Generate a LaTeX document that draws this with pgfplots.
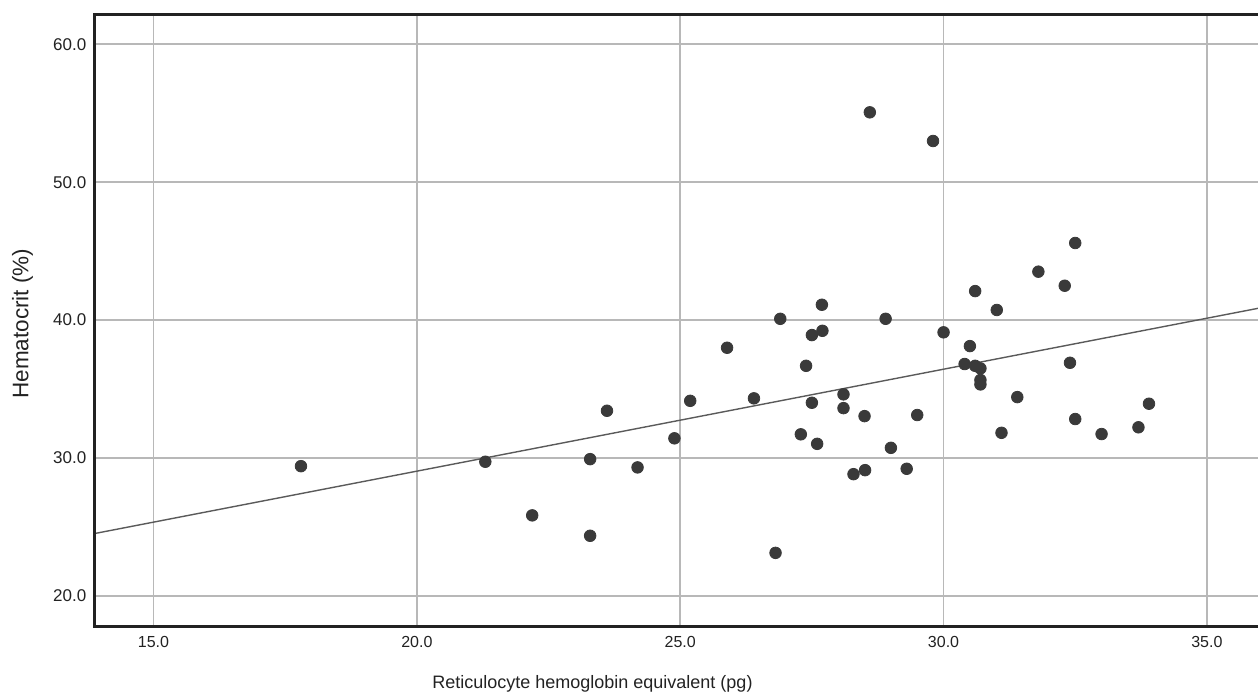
\documentclass[border=0pt]{standalone}
\usepackage{pgfplots}
\pgfplotsset{compat=1.18}
\usepackage{fontspec}
\setmainfont{Liberation Sans}
\definecolor{dotc}{HTML}{3A3A3A}
\definecolor{gridc}{HTML}{B8B8B8}
\definecolor{linec}{HTML}{5A5A5A}
\definecolor{txtc}{HTML}{222222}
\begin{document}
\begin{tikzpicture}
\begin{axis}[
  scale only axis,
  width=581.75pt, height=306pt,
  xmin=13.88, xmax=35.97,
  ymin=17.76, ymax=62.16,
  xtick={15,20,25,30,35},
  ytick={20,30,40,50,60},
  grid=major,
  grid style={color=gridc, line width=0.9pt},
  major tick length=0pt,
  axis line style={draw=none},
  clip mode=individual,
  /pgf/number format/.cd, fixed, fixed zerofill, precision=1, assume math mode=true,
  /pgfplots/.cd,
  xticklabel style={font=\fontsize{8}{9}\selectfont, color=txtc, anchor=north, inner sep=0pt, yshift=-4.75pt},
  yticklabel style={font=\fontsize{8.5}{10}\selectfont, color=txtc, anchor=east, inner sep=0pt, xshift=-3.9pt},
  xlabel={Reticulocyte hemoglobin equivalent (pg)},
  ylabel={Hematocrit (\%)},
  xlabel style={font=\fontsize{9}{11}\selectfont, color=txtc, at={(rel axis cs:0.428,0)}, anchor=base, inner sep=0pt, yshift=-30.75pt},
  ylabel style={font=\fontsize{11.25}{13}\selectfont, color=txtc, at={(rel axis cs:0,0.495)}, anchor=center, inner sep=0pt, yshift=36pt},
]
\addplot[no marks, color=linec, line width=0.7pt] coordinates {(13.88,24.51) (35.97,40.85)};
\addplot[only marks, mark=*, mark size=2.9pt, mark options={fill=dotc, draw=dotc}] coordinates {
(17.80,29.40) (21.30,29.72) (22.19,25.83) (23.29,29.91) (23.29,24.35)
(23.61,33.42) (24.19,29.31) (24.89,31.42) (25.19,34.14) (25.89,37.99)
(26.40,34.32) (26.81,23.11) (26.90,40.09) (27.29,31.71) (27.39,36.68)
(27.50,38.91) (27.50,34.00) (27.60,31.02) (27.69,41.11) (27.70,39.22)
(28.10,34.61) (28.10,33.61) (28.29,28.82) (28.50,33.03) (28.51,29.11)
(28.60,55.07) (28.90,40.09) (29.00,30.73) (29.30,29.21) (29.50,33.11)
(29.80,52.99) (30.00,39.11) (30.40,36.81) (30.50,38.11) (30.60,42.10)
(30.60,36.68) (30.70,36.49) (30.70,35.65) (30.70,35.33) (31.01,40.73)
(31.10,31.82) (31.40,34.41) (31.80,43.51) (32.30,42.49) (32.40,36.90)
(32.50,45.59) (32.50,32.82) (33.00,31.73) (33.70,32.22) (33.90,33.93)
};
\draw[line width=1.3pt, color=txtc] (rel axis cs:1,0) -- (rel axis cs:0,0) -- (rel axis cs:0,1) -- (rel axis cs:1,1);
\coordinate (sw) at (rel axis cs:0,0);
\coordinate (ne) at (rel axis cs:1,1);
\end{axis}
\pgfresetboundingbox
\path ([shift={(-47.25pt,-33.25pt)}]sw) rectangle ([shift={(0pt,7.3pt)}]ne);
\end{tikzpicture}
\end{document}
